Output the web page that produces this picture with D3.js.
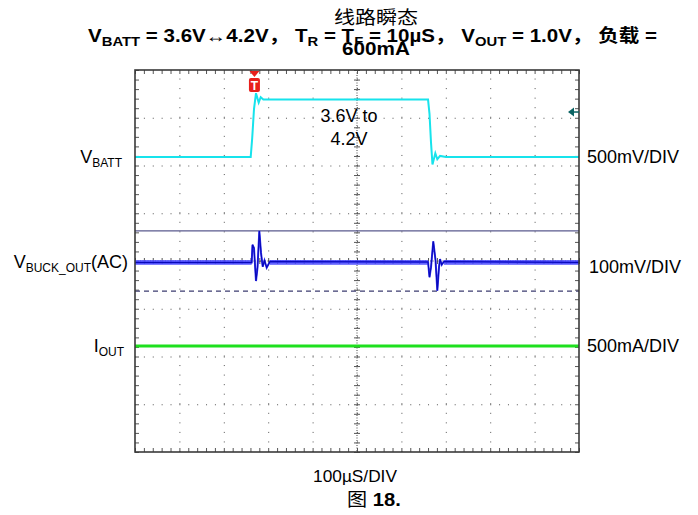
<!DOCTYPE html>
<html>
<head>
  <meta charset="utf-8">
  <script src="https://cdn.jsdelivr.net/npm/d3@7"></script>
  <style>
    body { margin: 0; background: #fff; }
    text { font-family: "Liberation Sans", Arial, "Noto Sans CJK SC", sans-serif; fill: #000; }
  </style>
</head>
<body>
<script>
  // ---- data (time in µs, 100µs/div) ----
  var battTime = [0, 260.6, 264, 268, 272.5, 278.6, 283.1, 289, 660, 663.3, 666.7, 670, 676.4, 680.9, 687, 700.5, 1000];
  var battVolt = [3.6, 3.6, 3.8, 4.1, 4.267, 4.169, 4.225, 4.2, 4.2, 4.05, 3.75, 3.52, 3.638, 3.575, 3.61, 3.6, 3.6];

  var buckTime = [0, 262.8, 264.6, 268, 272.5, 276, 280, 283.8, 287.6, 291.7, 296.6, 304, 660, 663.3, 666.7, 671.8, 676.8, 680.9, 684.7, 687, 690.8, 696, 1000];
  var buckMv   = [0, 0, 37, 30, -39, -10, 66, 20, -9, 4, -11, 2, 1, -31, -10, 44, 5, -59, -10, 7, -5, 2, 0];
  var buckQuiet = [[0, 262.8], [304, 660], [696, 1000]];
  var buckNoiseMv = 5;
  var buckCursorsMv = [66, -60];

  var ioutTime = [0, 1000];
  var ioutMa   = [600, 600];

  var triggerTime = 269;      // T marker
  var triggerLevelV = 4.07;   // arrow on the right edge

  var leftLabels  = [["V", "BATT", ""], ["V", "BUCK_OUT", "(AC)"], ["I", "OUT", ""]];
  var rightLabels = ["500mV/DIV", "100mV/DIV", "500mA/DIV"];

  function draw() {
    "use strict";
    var width = 698, height = 515;
    var pL = 135, pR = 579, pT = 70, pB = 452;

    var x = d3.scaleLinear().domain([0, 1000]).range([pL, pR]);
    var y = d3.scaleLinear().domain([-4, 4]).range([pB, pT]);   // in divisions

    // channel settings: divisions from the centre line
    function battDiv(v) { return 2.18 + (v - 3.6) / 0.5; }
    function buckDiv(mv) { return -0.03 + mv / 100; }
    function ioutDiv(ma) { return -2.98 + ma / 500; }

    var svg = d3.select("body").append("svg")
        .attr("width", width).attr("height", height);

    svg.append("rect").attr("width", width).attr("height", height).attr("fill", "#fff");

    // ---- grid ----
    var majorX = d3.range(100, 1000, 100);
    var majorY = d3.range(-3, 4, 1);
    var minorX = d3.range(0, 1000.1, 20);
    var minorY = d3.range(-4, 4.01, 0.2);

    var gx = svg.append("g").attr("transform", "translate(0," + pB + ")")
        .call(d3.axisBottom(x).tickValues(majorX).tickSize(-(pB - pT)).tickFormat(""));
    gx.selectAll(".tick line").attr("stroke", "#555").attr("stroke-dasharray", "1,8.55");
    var gy = svg.append("g").attr("transform", "translate(" + pL + ",0)")
        .call(d3.axisLeft(y).tickValues(majorY).tickSize(-(pR - pL)).tickFormat(""));
    gy.selectAll(".tick line").attr("stroke", "#555").attr("stroke-dasharray", "1,7.88");

    // centre lines with crossing minor ticks
    svg.append("line").attr("x1", x(500)).attr("x2", x(500)).attr("y1", pT).attr("y2", pB)
        .attr("stroke", "#444").attr("stroke-dasharray", "1,1.5");
    svg.append("line").attr("x1", pL).attr("x2", pR).attr("y1", y(0)).attr("y2", y(0))
        .attr("stroke", "#444").attr("stroke-dasharray", "1,1.5");

    var cx = svg.append("g").attr("transform", "translate(0," + y(0) + ")")
        .call(d3.axisBottom(x).tickValues(minorX).tickSize(3).tickFormat(""));
    cx.selectAll(".tick line").attr("y1", -3).attr("stroke", "#555");
    var cy = svg.append("g").attr("transform", "translate(" + x(500) + ",0)")
        .call(d3.axisLeft(y).tickValues(minorY).tickSize(3).tickFormat(""));
    cy.selectAll(".tick line").attr("x1", 3).attr("stroke", "#555");

    // edge ticks pointing inward
    var edgeStyle = function (g) { g.selectAll(".tick line").attr("stroke", "#555"); };
    svg.append("g").attr("transform", "translate(0," + pT + ")")
        .call(d3.axisTop(x).tickValues(minorX).tickSize(-4).tickFormat("")).call(edgeStyle);
    svg.append("g").attr("transform", "translate(0," + pB + ")")
        .call(d3.axisBottom(x).tickValues(minorX).tickSize(-4).tickFormat("")).call(edgeStyle);
    svg.append("g").attr("transform", "translate(" + pL + ",0)")
        .call(d3.axisLeft(y).tickValues(minorY).tickSize(-4).tickFormat("")).call(edgeStyle);
    svg.append("g").attr("transform", "translate(" + pR + ",0)")
        .call(d3.axisRight(y).tickValues(minorY).tickSize(-4).tickFormat("")).call(edgeStyle);

    svg.selectAll(".domain").remove();

    // ---- cursors on the buck channel ----
    svg.append("line")
        .attr("x1", pL).attr("x2", pR)
        .attr("y1", y(buckDiv(buckCursorsMv[0]))).attr("y2", y(buckDiv(buckCursorsMv[0])))
        .attr("stroke", "#5a5a8e").attr("stroke-width", 1.3);
    svg.append("line")
        .attr("x1", pL).attr("x2", pR)
        .attr("y1", y(buckDiv(buckCursorsMv[1]))).attr("y2", y(buckDiv(buckCursorsMv[1])))
        .attr("stroke", "#3c3c70").attr("stroke-width", 1.3).attr("stroke-dasharray", "5,4");

    // ---- traces ----
    var battLine = d3.line().x(function (d, i) { return x(battTime[i]); }).y(function (d) { return y(battDiv(d)); });
    svg.append("path").datum(battVolt).attr("d", battLine)
        .attr("fill", "none").attr("stroke", "#17e3ec").attr("stroke-width", 2);

    svg.selectAll(".noise").data(buckQuiet).enter().append("rect")
        .attr("class", "noise")
        .attr("x", function (d) { return x(d[0]); })
        .attr("width", function (d) { return x(d[1]) - x(d[0]); })
        .attr("y", y(buckDiv(buckNoiseMv)))
        .attr("height", y(buckDiv(-buckNoiseMv)) - y(buckDiv(buckNoiseMv)))
        .attr("fill", "#4a4aff").attr("opacity", 0.85);

    var buckLine = d3.line().x(function (d, i) { return x(buckTime[i]); }).y(function (d) { return y(buckDiv(d)); });
    svg.append("path").datum(buckMv).attr("d", buckLine)
        .attr("fill", "none").attr("stroke", "#3a3af5").attr("stroke-width", 2);
    svg.append("path").datum(buckMv).attr("d", buckLine)
        .attr("fill", "none").attr("stroke", "#0808b8").attr("stroke-width", 1.1);

    var ioutLine = d3.line().x(function (d, i) { return x(ioutTime[i]); }).y(function (d) { return y(ioutDiv(d)); });
    svg.append("path").datum(ioutMa).attr("d", ioutLine)
        .attr("fill", "none").attr("stroke", "#1ee01e").attr("stroke-width", 3);

    // frame
    svg.append("rect").attr("x", pL).attr("y", pT)
        .attr("width", pR - pL).attr("height", pB - pT)
        .attr("fill", "none").attr("stroke", "#3a3a3a").attr("stroke-width", 1.6);

    // trigger marker
    var tx = x(triggerTime);
    svg.append("path").attr("d", "M" + (tx - 5) + "," + (pT + 1) + "L" + (tx + 5) + "," + (pT + 1) + "L" + tx + "," + (pT + 7) + "Z")
        .attr("fill", "#e8201c");
    svg.append("rect").attr("x", tx - 5.5).attr("y", pT + 8).attr("width", 11).attr("height", 14)
        .attr("rx", 2).attr("fill", "#e8201c");
    svg.append("text").attr("x", tx).attr("y", pT + 20).attr("text-anchor", "middle")
        .style("font-size", "12px").style("font-weight", "bold").style("fill", "#fff").text("T");

    // trigger level arrow
    var ty = y(battDiv(triggerLevelV));
    svg.append("path").attr("d", "M" + (pR - 11) + "," + ty + "L" + (pR - 5) + "," + (ty - 4.5) + "L" + (pR - 5) + "," + (ty + 4.5) + "Z")
        .attr("fill", "#0b6464");
    svg.append("line").attr("x1", pR - 5).attr("x2", pR).attr("y1", ty).attr("y2", ty)
        .attr("stroke", "#0b6464").attr("stroke-width", 1.5);

    // ---- texts ----
    var labelY = [y(battDiv(3.6)), y(buckDiv(0)), y(ioutDiv(600))];
    var labelRightX = [122, 128, 124];
    leftLabels.forEach(function (p, i) {
      var t = svg.append("text").attr("x", labelRightX[i]).attr("y", labelY[i] + 6)
          .attr("text-anchor", "end").style("font-size", "18px");
      t.append("tspan").text(p[0]);
      t.append("tspan").attr("dy", 4).style("font-size", "12px").text(p[1]);
      t.append("tspan").attr("dy", -4).text(p[2]);
    });
    var rightX = [587, 589, 587];
    rightLabels.forEach(function (s, i) {
      svg.append("text").attr("x", rightX[i]).attr("y", labelY[i] + 6 + (i === 1 ? 5 : 0))
          .style("font-size", "18px").text(s);
    });

    svg.append("text").attr("x", 349).attr("y", 122).attr("text-anchor", "middle")
        .style("font-size", "18px").text("3.6V to");
    svg.append("text").attr("x", 349).attr("y", 145).attr("text-anchor", "middle")
        .style("font-size", "18px").text("4.2V");

    // title (the source type is a little wide, hence the x stretch)
    function stretched(cxp, cyp, sx) {
      return svg.append("text").attr("text-anchor", "middle")
          .attr("transform", "translate(" + cxp + "," + cyp + ") scale(" + sx + ",1)");
    }
    stretched(376, 24, 1.17).style("font-size", "18px").text("线路瞬态");

    var t2 = stretched(372.5, 42, 1.142).style("font-size", "18px").style("font-weight", "bold");
    var titleParts = [["V", "BATT"], [" = 3.6V\u21944.2V\uff0c T", "R"], [" = T", "F"], [" = 10\u00b5S\uff0c V", "OUT"], [" = 1.0V\uff0c \u8d1f\u8f7d =", ""]];
    titleParts.forEach(function (p, i) {
      t2.append("tspan").attr("dy", i === 0 ? 0 : -4).text(p[0]);
      if (p[1]) t2.append("tspan").attr("dy", 4).style("font-size", "13px").text(p[1]);
    });
    stretched(376, 55, 1.15).style("font-size", "18px").style("font-weight", "bold").text("600mA");

    // bottom
    stretched(355, 482, 1.08).style("font-size", "16px").text("100\u00b5S/DIV");
    var fig = stretched(374, 506, 1.12).style("font-size", "18px");
    fig.append("tspan").text("图 ");
    fig.append("tspan").style("font-weight", "bold").text("18.");
  }

  draw();
</script>
</body>
</html>
